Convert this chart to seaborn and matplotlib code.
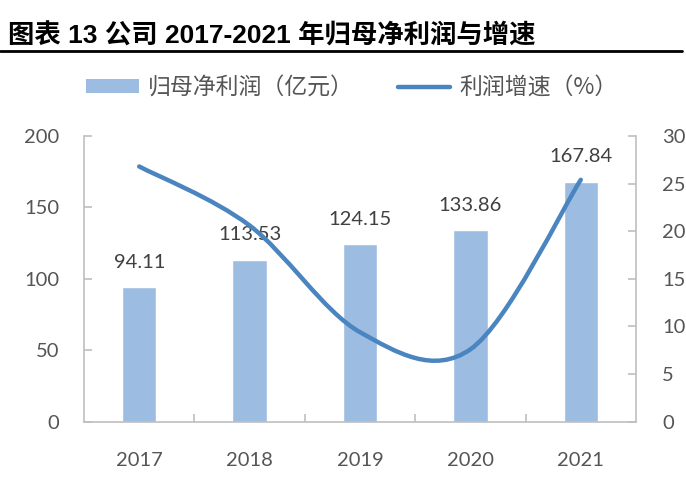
import numpy as np
import pandas as pd
import matplotlib
matplotlib.use("Agg")
import matplotlib.pyplot as plt
import seaborn as sns
from matplotlib.path import Path
from matplotlib.patches import PathPatch, Patch
from matplotlib.lines import Line2D

years = ["2017", "2018", "2019", "2020", "2021"]
profit = [94.11, 113.53, 124.15, 133.86, 167.84]
growth = [26.8, 20.6, 9.4, 7.6, 25.4]
left_ticks = [0, 50, 100, 150, 200]
right_ticks = [0, 5, 10, 15, 20, 25, 30]
title = "图表 13 公司 2017-2021 年归母净利润与增速"
bar_label = "归母净利润（亿元）"
line_label = "利润增速（%）"

sns.set_theme(style="white")
plt.rcParams['font.family'] = ['Lato', 'Noto Sans CJK SC', 'DejaVu Sans']

BAR_C = "#9DBCE1"
LINE_C = "#4A85C0"
TICK_C = "#555555"
SPINE_C = "#BFBFBF"

fig = plt.figure(figsize=(6.86, 4.86), dpi=100)
ax = fig.add_axes([84/686, 1-421.7/486, 552/686, 285.7/486])

df = pd.DataFrame({"year": years, "profit": profit})
sns.barplot(data=df, x="year", y="profit", color=BAR_C, width=0.31,
            saturation=1, ax=ax, zorder=2)
ax.set_xlim(-0.5, 4.5)
ax.set_ylim(0, 200)
ax.set_yticks(left_ticks)
ax.set_xlabel("")
ax.set_ylabel("")

for i, v in enumerate(profit):
    ax.text(i, v + 17.5, f"{v:.2f}", ha="center", va="center",
            fontsize=14.5, color="#404040")

ax2 = ax.twinx()
ax2.set_ylim(0, 30)
ax2.set_yticks(right_ticks)

# Smooth (Excel-style) curve through the growth points, drawn as Bezier path
xs = np.arange(len(growth), dtype=float)
ys = np.array(growth, dtype=float)
n = len(xs)
verts = [(xs[0], ys[0])]
codes = [Path.MOVETO]
for i in range(n - 1):
    p0 = np.array([xs[max(i-1, 0)], ys[max(i-1, 0)]])
    p1 = np.array([xs[i], ys[i]])
    p2 = np.array([xs[i+1], ys[i+1]])
    p3 = np.array([xs[min(i+2, n-1)], ys[min(i+2, n-1)]])
    c1 = p1 + (p2 - p0) / 6.0
    c2 = p2 - (p3 - p1) / 6.0
    verts += [tuple(c1), tuple(c2), tuple(p2)]
    codes += [Path.CURVE4] * 3
patch = PathPatch(Path(verts, codes), facecolor="none", edgecolor=LINE_C,
                  lw=3.2, capstyle="round", zorder=3)
ax2.add_patch(patch)

for a in (ax, ax2):
    for s in a.spines.values():
        s.set_color(SPINE_C)
        s.set_linewidth(1.2)
    a.spines["top"].set_visible(False)
    a.grid(False)

ax.spines["right"].set_visible(False)
ax2.spines["left"].set_visible(False)
ax2.spines["bottom"].set_visible(False)

ax.tick_params(axis="y", direction="in", length=6, width=1.2, color=SPINE_C,
               labelsize=14.5, labelcolor=TICK_C, pad=18, left=True)
ax2.tick_params(axis="y", direction="in", length=6, width=1.2, color=SPINE_C,
                labelsize=14.5, labelcolor=TICK_C, pad=19, right=True)
ax.set_xticks([0, 1, 2, 3, 4])
ax.set_xticklabels(years)
ax.tick_params(axis="x", length=0, labelsize=14.5, labelcolor=TICK_C, pad=22)
ax.set_xticks([0.5, 1.5, 2.5, 3.5], minor=True)
ax.tick_params(axis="x", which="minor", direction="in", length=6, width=1.2,
               color=SPINE_C, bottom=True)

# Title and underline
fig.text(8/686, 1-36/486, title, fontsize=19, fontweight="bold", color="black",
         ha="left", va="center",
         family=['Liberation Sans', 'Noto Sans CJK SC'])
fig.add_artist(Line2D([0, 682/686], [1-51/486, 1-51/486], color="black",
                      lw=2, transform=fig.transFigure))

handles = [Patch(facecolor=BAR_C, edgecolor="none"),
           Line2D([0], [0], color=LINE_C, lw=3.2)]
leg = fig.legend(handles, [bar_label, line_label], loc="center",
                 bbox_to_anchor=(352/686, 1-88/486), ncol=2, frameon=False,
                 handlelength=2.3, handleheight=0.55,
                 columnspacing=1.9, handletextpad=0.4,
                 prop={'family': ['Noto Sans CJK SC', 'DejaVu Sans'], 'size': 16.5})
for t in leg.get_texts():
    t.set_color(TICK_C)

fig.savefig("out.png", dpi=100)
